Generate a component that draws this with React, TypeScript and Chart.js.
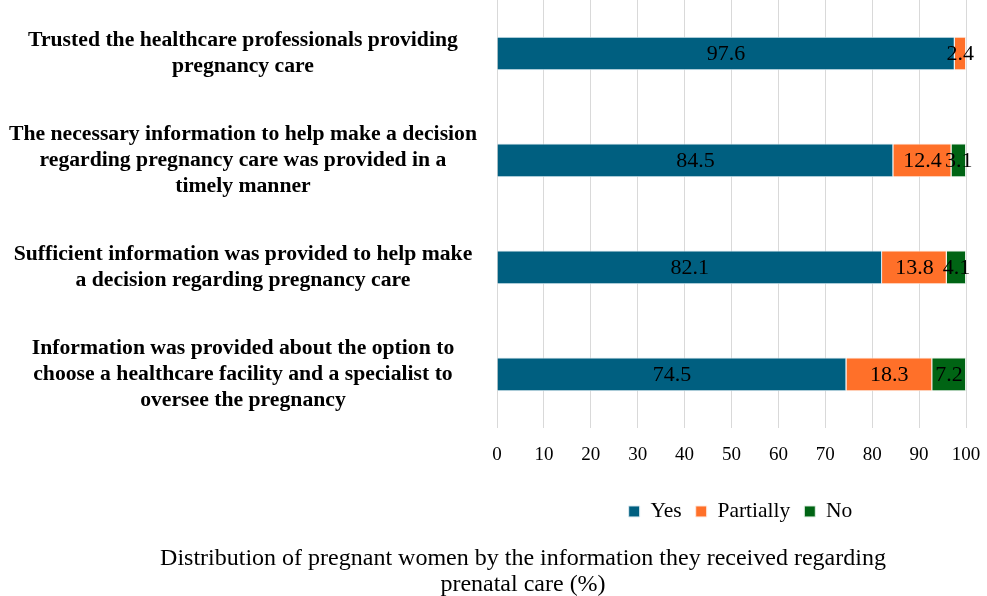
import React, { useEffect, useRef } from "react";
import { Chart, registerables } from "chart.js";

Chart.register(...registerables);

const categories: string[][] = [
  ["Trusted the healthcare professionals providing", "pregnancy care"],
  ["The necessary information to help make a decision", "regarding pregnancy care was provided in a", "timely manner"],
  ["Sufficient information was provided to help make", "a decision regarding pregnancy care"],
  ["Information was provided about the option to", "choose a healthcare facility and a specialist to", "oversee the pregnancy"],
];
const yesValues = [97.6, 84.5, 82.1, 74.5];
const partiallyValues = [2.4, 12.4, 13.8, 18.3];
const noValues = [0, 3.1, 4.1, 7.2];
const xTicks = [0, 10, 20, 30, 40, 50, 60, 70, 80, 90, 100];
const titleLines = [
  "Distribution of pregnant women by the information they received regarding",
  "prenatal care (%)",
];

const FONT = "'Liberation Serif', 'Times New Roman', serif";

const valueLabels = {
  id: "valueLabels",
  afterDatasetsDraw(chart: any) {
    const ctx = chart.ctx;
    ctx.save();
    ctx.font = `22px ${FONT}`;
    ctx.fillStyle = "#000";
    ctx.textAlign = "center";
    ctx.textBaseline = "middle";
    chart.data.datasets.forEach((ds: any, di: number) => {
      const meta = chart.getDatasetMeta(di);
      meta.data.forEach((el: any, i: number) => {
        const v = ds.data[i];
        if (!v) return;
        const cx = (el.x + el.base) / 2;
        ctx.fillText(String(v), cx, el.y + 1);
      });
    });
    ctx.restore();
  },
};

const shiftBlocks = {
  id: "shiftBlocks",
  afterLayout(chart: any) {
    const t = chart.titleBlock;
    if (t) {
      t.left = 80;
      t.width = t.right - t.left;
    }
    const l = chart.legend;
    if (l) {
      l.left += 9;
      l.right += 9;
    }
  },
};

export default function App() {
  const ref = useRef<HTMLCanvasElement>(null);
  useEffect(() => {
    document.body.style.margin = "0";
    const chart = new Chart(ref.current!, {
      type: "bar",
      data: {
        labels: categories,
        datasets: [
          { label: "Yes", data: yesValues, backgroundColor: "#005f80", borderColor: "rgba(220,235,242,1)", borderWidth: 1 },
          { label: "Partially", data: partiallyValues, backgroundColor: "#ff7029", borderColor: "rgba(255,235,225,1)", borderWidth: 1 },
          { label: "No", data: noValues, backgroundColor: "#006414", borderColor: "rgba(225,240,228,1)", borderWidth: 1 },
        ],
      },
      options: {
        indexAxis: "y",
        animation: false,
        responsive: false,
        maintainAspectRatio: false,
        layout: { padding: { top: 0, right: 21, bottom: 0, left: 0 } },
        datasets: { bar: { barPercentage: 0.315, categoryPercentage: 1 } },
        scales: {
          x: {
            stacked: true,
            min: 0,
            max: 100,
            afterBuildTicks: (s: any) => { s.ticks = xTicks.map((v) => ({ value: v })); },
            afterFit: (s: any) => { s.paddingLeft = 0; s.paddingRight = 0; s.height += 4; },
            grid: { color: "#d9d9d9", drawTicks: false },
            border: { display: false },
            ticks: { color: "#000", padding: 16, font: { family: FONT, size: 19 } },
          },
          y: {
            stacked: true,
            afterFit: (s: any) => { s.width = 497; s.paddingTop = 0; s.paddingBottom = 0; },
            grid: { display: false },
            border: { display: false },
            ticks: {
              color: "#000",
              padding: 12,
              crossAlign: "center",
              font: { family: FONT, size: 21.7, weight: "bold", lineHeight: 1.18 },
            },
          },
        },
        plugins: {
          legend: {
            position: "bottom",
            fullSize: false,
            labels: {
              color: "#000",
              boxWidth: 11,
              boxHeight: 11,
              padding: 14,
              font: { family: FONT, size: 21.5 },
            },
          },
          title: {
            display: true,
            position: "bottom",
            text: titleLines,
            color: "#000",
            padding: { top: 13, bottom: -2 },
            font: { family: FONT, size: 24, weight: "normal", lineHeight: 1.1 },
          },
          tooltip: { enabled: false },
        },
      },
      plugins: [valueLabels, shiftBlocks],
    });
    return () => chart.destroy();
  }, []);
  return <canvas ref={ref} width={987} height={596} style={{ display: "block" }} />;
}
